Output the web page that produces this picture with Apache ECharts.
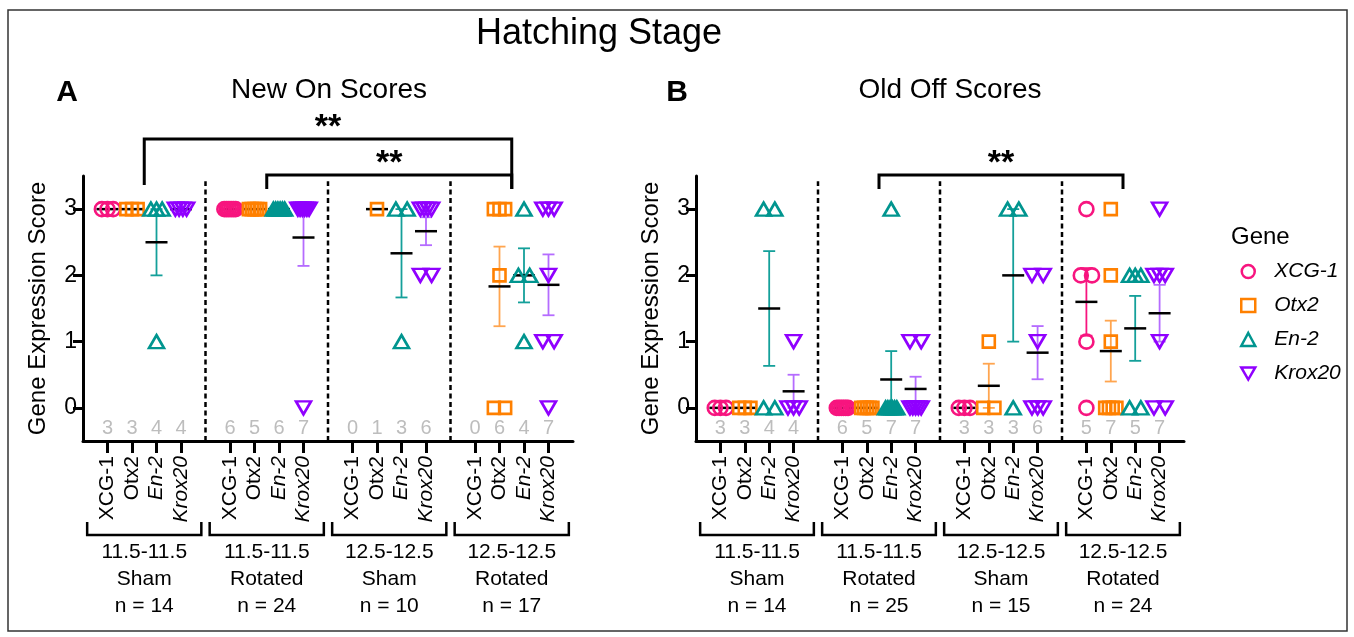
<!DOCTYPE html>
<html><head><meta charset="utf-8">
<script src="https://cdn.jsdelivr.net/npm/echarts@6/dist/echarts.min.js"></script>
<style>html,body{margin:0;padding:0;background:#fff}#c{width:1354px;height:637px}</style>
</head><body><div id="c"></div>
<script>
// ---------------- DATA ----------------
const genes = ['XCG-1', 'Otx2', 'En-2', 'Krox20'];
const groupLabelsA = ['11.5-11.5\nSham\nn = 14', '11.5-11.5\nRotated\nn = 24', '12.5-12.5\nSham\nn = 10', '12.5-12.5\nRotated\nn = 17'];
const groupLabelsB = ['11.5-11.5\nSham\nn = 14', '11.5-11.5\nRotated\nn = 25', '12.5-12.5\nSham\nn = 15', '12.5-12.5\nRotated\nn = 24'];
const yTicks = [0, 1, 2, 3];

// Panel A: New On Scores (per group: Sham 11.5, Rotated 11.5, Sham 12.5, Rotated 12.5)
const xcgA  = [[3,3,3], [3,3,3,3,3,3], [], []];
const otxA  = [[3,3,3], [3,3,3,3,3], [3], [3,3,3,2,0,0]];
const enA   = [[3,3,3,1], [3,3,3,3,3,3], [3,3,1], [3,2,2,1]];
const kroxA = [[3,3,3,3], [3,3,3,3,3,3,0], [3,3,3,3,2,2], [3,3,3,2,1,1,0]];

// Panel B: Old Off Scores
const xcgB  = [[0,0,0], [0,0,0,0,0,0], [0,0,0], [3,2,2,1,0]];
const otxB  = [[0,0,0], [0,0,0,0,0], [1,0,0], [3,2,1,0,0,0,0]];
const enB   = [[3,3,0,0], [3,0,0,0,0,0,0], [3,3,0], [2,2,2,0,0]];
const kroxB = [[1,0,0,0], [1,1,0,0,0,0,0], [2,2,1,0,0,0], [3,2,2,2,1,0,0]];

// significance comparisons: group index from, group index to, label
const sigA = [{from: 0, to: 3, label: '**'}, {from: 1, to: 3, label: '**'}];
const sigB = [{from: 1, to: 3, label: '**'}];

// ---------------- STYLE ----------------
const FONT = '"Liberation Sans", Arial, Helvetica, sans-serif';
const colors = ['#F7157F', '#FF8000', '#00958F', '#9000FF'];
const barColors = ['#F7157F', '#FFA54F', '#14A09A', '#B56CFF'];
const symbols = ['circle', 'rect', 'triangle', 'triangle'];
const symbolRot = [0, 0, 0, 180];
const symbolSizes = [14, 12, [15, 13], [15, 13]];
const legendIcons = ['circle', 'rect', 'triangle', 'path://M0,0L12,0L6,10.4Z'];
const SPREAD = 0.46;

const slotOf = (g, i) => g * 5 + i;
const groupCenter = g => g * 5 + 1.5;

function jitter(vals, center) {
  const counts = {}, seen = {};
  vals.forEach(v => counts[v] = (counts[v] || 0) + 1);
  return vals.map(v => {
    const k = counts[v];
    const j = (seen[v] = (seen[v] || 0) + 1) - 1;
    const off = k > 1 ? (j - (k - 1) / 2) * (SPREAD / (k - 1)) : 0;
    return [center + off, v];
  });
}
function stats(vals) {
  const n = vals.length;
  if (!n) return null;
  const m = vals.reduce((a, b) => a + b, 0) / n;
  if (n < 2) return {n, m, sem: 0};
  const sd = Math.sqrt(vals.reduce((a, b) => a + (b - m) * (b - m), 0) / (n - 1));
  return {n, m, sem: sd / Math.sqrt(n)};
}

function yAx(gi) {
  return {
    type: 'value', gridIndex: gi, min: -0.5, max: 3.5,
    name: 'Gene Expression Score', nameLocation: 'middle', nameGap: 33,
    nameTextStyle: {fontSize: 24, color: '#000', fontFamily: FONT},
    axisLine: {show: true, onZero: false, lineStyle: {color: '#000', width: 3}},
    axisTick: {show: true, length: 10, customValues: yTicks, lineStyle: {color: '#000', width: 3}},
    axisLabel: {customValues: yTicks, fontSize: 23, color: '#000', margin: 6, fontFamily: FONT},
    splitLine: {show: false}
  };
}
function valAx(gi) {
  return {type: 'value', gridIndex: gi, min: -1, max: 19, show: false};
}
const catData = Array.from({length: 21}, (_, k) => 'k' + k);
function geneAtIndex(idx) {
  const s = idx - 1;
  if (s < 0 || s > 18 || s % 5 === 4) return null;
  return genes[s % 5];
}
function catAx(gi) {
  return {
    type: 'category', gridIndex: gi, data: catData, boundaryGap: false, position: 'bottom',
    axisLine: {show: true, onZero: false, lineStyle: {color: '#000', width: 3}},
    axisTick: {show: true, length: 12, interval: (idx) => geneAtIndex(idx) !== null, lineStyle: {color: '#000', width: 3}},
    axisLabel: {
      interval: 0, rotate: 90, margin: 15, color: '#000', fontSize: 21, fontFamily: FONT,
      formatter: (v, idx) => {
        const g = geneAtIndex(idx);
        if (!g) return '';
        return (g === 'En-2' || g === 'Krox20') ? '{i|' + g + '}' : '{n|' + g + '}';
      },
      rich: {
        i: {fontStyle: 'italic', fontSize: 21, color: '#000', fontFamily: FONT},
        n: {fontSize: 21, color: '#000', fontFamily: FONT}
      }
    },
    splitLine: {show: false}
  };
}

function panelSeries(p, geneVals, groupLabels, sig) {
  const xi = p * 2, yi = p;
  const out = [];
  // dividers
  out.push({
    type: 'custom', xAxisIndex: xi, yAxisIndex: yi, z: 1, silent: true,
    data: [1, 2, 3].map(g => [g * 5 - 1]),
    renderItem: (params, api) => {
      const x = api.value(0);
      const a = api.coord([x, -0.5]), b = api.coord([x, 3.42]);
      return {type: 'line', shape: {x1: a[0], y1: a[1], x2: b[0], y2: b[1]},
        style: {stroke: '#000', lineWidth: 2.5, lineDash: [5, 3.5]}};
    }
  });
  // counts
  const countData = [];
  for (let g = 0; g < 4; g++) for (let i = 0; i < 4; i++) countData.push([slotOf(g, i), geneVals[i][g].length]);
  out.push({
    type: 'custom', xAxisIndex: xi, yAxisIndex: yi, z: 1, silent: true, data: countData,
    renderItem: (params, api) => {
      const a = api.coord([api.value(0), -0.5]);
      return {type: 'text', x: a[0], y: a[1] - 13,
        style: {text: String(api.value(1)), fill: '#BDBDBD', fontSize: 20, fontFamily: FONT, align: 'center', verticalAlign: 'middle'}};
    }
  });
  // group brackets + labels
  out.push({
    type: 'custom', xAxisIndex: xi, yAxisIndex: yi, z: 1, silent: true,
    data: [0, 1, 2, 3].map(g => [groupCenter(g), g]),
    renderItem: (params, api) => {
      const c = api.coord([api.value(0), -0.5]);
      const hw = api.size([2.33, 0])[0];
      const g = api.value(1);
      return {type: 'group', children: [
        {type: 'polyline', shape: {points: [[c[0] - hw, c[1] + 81], [c[0] - hw, c[1] + 94], [c[0] + hw, c[1] + 94], [c[0] + hw, c[1] + 81]]},
          style: {stroke: '#000', lineWidth: 2.5, fill: null}},
        {type: 'text', x: c[0], y: c[1] + 98,
          style: {text: groupLabels[g], fill: '#000', fontSize: 21, lineHeight: 27, fontFamily: FONT, align: 'center', verticalAlign: 'top'}}
      ]};
    }
  });
  // significance brackets
  out.push({
    type: 'custom', xAxisIndex: xi, yAxisIndex: yi, z: 1, silent: true,
    data: sig.map((s, k) => [groupCenter(s.from), groupCenter(s.to), k]),
    renderItem: (params, api) => {
      const k = api.value(2);
      const n = sig.length;
      const top = api.coord([0, 3.5])[1];
      const levelY = top - 1 - (n - 1 - k) * 36;
      const dropL = top + 13 - (n - 1 - k) * 4;
      const xa = api.coord([api.value(0), 0])[0], xb = api.coord([api.value(1), 0])[0];
      const dropR = top + 13;
      return {type: 'group', children: [
        {type: 'polyline', shape: {points: [[xa, dropL], [xa, levelY], [xb, levelY], [xb, dropR]]},
          style: {stroke: '#000', lineWidth: 3, fill: null}},
        {type: 'text', x: (xa + xb) / 2, y: levelY - 11,
          style: {text: sig[k].label, fill: '#000', fontSize: 34, fontWeight: 'bold', fontFamily: FONT, align: 'center', verticalAlign: 'middle'}}
      ]};
    }
  });
  // mean + SEM
  const msData = [];
  for (let g = 0; g < 4; g++) for (let i = 0; i < 4; i++) {
    const st = stats(geneVals[i][g]);
    if (st) msData.push([slotOf(g, i), st.m, st.m - st.sem, st.m + st.sem, i, st.n]);
  }
  out.push({
    type: 'custom', xAxisIndex: xi, yAxisIndex: yi, z: 2, silent: true, data: msData,
    renderItem: (params, api) => {
      const x = api.value(0), m = api.value(1), lo = api.value(2), hi = api.value(3), ci = api.value(4);
      const pm = api.coord([x, m]), pl = api.coord([x, lo]), ph = api.coord([x, hi]);
      const ch = [];
      if (hi > lo) {
        const c = barColors[ci];
        ch.push({type: 'line', shape: {x1: pm[0], y1: pl[1], x2: pm[0], y2: ph[1]}, style: {stroke: c, lineWidth: 1.8}});
        ch.push({type: 'line', shape: {x1: pm[0] - 6, y1: pl[1], x2: pm[0] + 6, y2: pl[1]}, style: {stroke: c, lineWidth: 1.8}});
        ch.push({type: 'line', shape: {x1: pm[0] - 6, y1: ph[1], x2: pm[0] + 6, y2: ph[1]}, style: {stroke: c, lineWidth: 1.8}});
      }
      ch.push({type: 'line', shape: {x1: pm[0] - 11, y1: pm[1], x2: pm[0] + 11, y2: pm[1]}, style: {stroke: '#000', lineWidth: 2.5}});
      return {type: 'group', children: ch};
    }
  });
  // scatter points
  for (let i = 0; i < 4; i++) {
    let pts = [];
    for (let g = 0; g < 4; g++) pts = pts.concat(jitter(geneVals[i][g], slotOf(g, i)));
    out.push({
      type: 'scatter', name: genes[i], xAxisIndex: xi, yAxisIndex: yi, z: 3, data: pts,
      symbol: symbols[i], symbolRotate: symbolRot[i], symbolSize: symbolSizes[i],
      itemStyle: {color: 'rgba(255,255,255,0)', borderColor: colors[i], borderWidth: 2.6, opacity: 1},
      emphasis: {disabled: true}, silent: true
    });
  }
  return out;
}

const series = [].concat(
  panelSeries(0, [xcgA, otxA, enA, kroxA], groupLabelsA, sigA),
  panelSeries(1, [xcgB, otxB, enB, kroxB], groupLabelsB, sigB)
);

const txt = (x, y, text, size, extra) => ({type: 'text', x, y, silent: true,
  style: Object.assign({text, fill: '#000', fontSize: size, fontFamily: FONT, align: 'center', verticalAlign: 'middle'}, extra || {})});

const option = {
  animation: false,
  textStyle: {fontFamily: FONT},
  grid: [
    {left: 83, top: 176, width: 490, height: 265, outerBoundsMode: 'none'},
    {left: 696, top: 176, width: 488, height: 265, outerBoundsMode: 'none'}
  ],
  xAxis: [valAx(0), catAx(0), valAx(1), catAx(1)],
  yAxis: [yAx(0), yAx(1)],
  legend: {
    orient: 'vertical', left: 1235, top: 256, itemWidth: 14, itemHeight: 13, itemGap: 13,
    selectedMode: false,
    textStyle: {fontSize: 21, fontStyle: 'italic', color: '#000', fontFamily: FONT, padding: [0, 0, 0, 14]},
    data: genes.map((g, i) => ({name: g, icon: legendIcons[i],
      itemStyle: {color: 'rgba(255,255,255,0)', borderColor: colors[i], borderWidth: 2.5}}))
  },
  graphic: [
    {type: 'rect', silent: true, shape: {x: 8, y: 10, width: 1339, height: 621}, style: {fill: 'none', stroke: '#333', lineWidth: 1.5}},
    txt(599, 34, 'Hatching Stage', 36),
    txt(67, 93, 'A', 30, {fontWeight: 'bold'}),
    txt(329, 90, 'New On Scores', 28),
    txt(677, 93, 'B', 30, {fontWeight: 'bold'}),
    txt(950, 90, 'Old Off Scores', 28),
    txt(1231, 237, 'Gene', 24, {align: 'left'})
  ],
  series
};
const chart = echarts.init(document.getElementById('c'), null, {renderer: 'canvas'});
chart.setOption(option);
</script></body></html>
